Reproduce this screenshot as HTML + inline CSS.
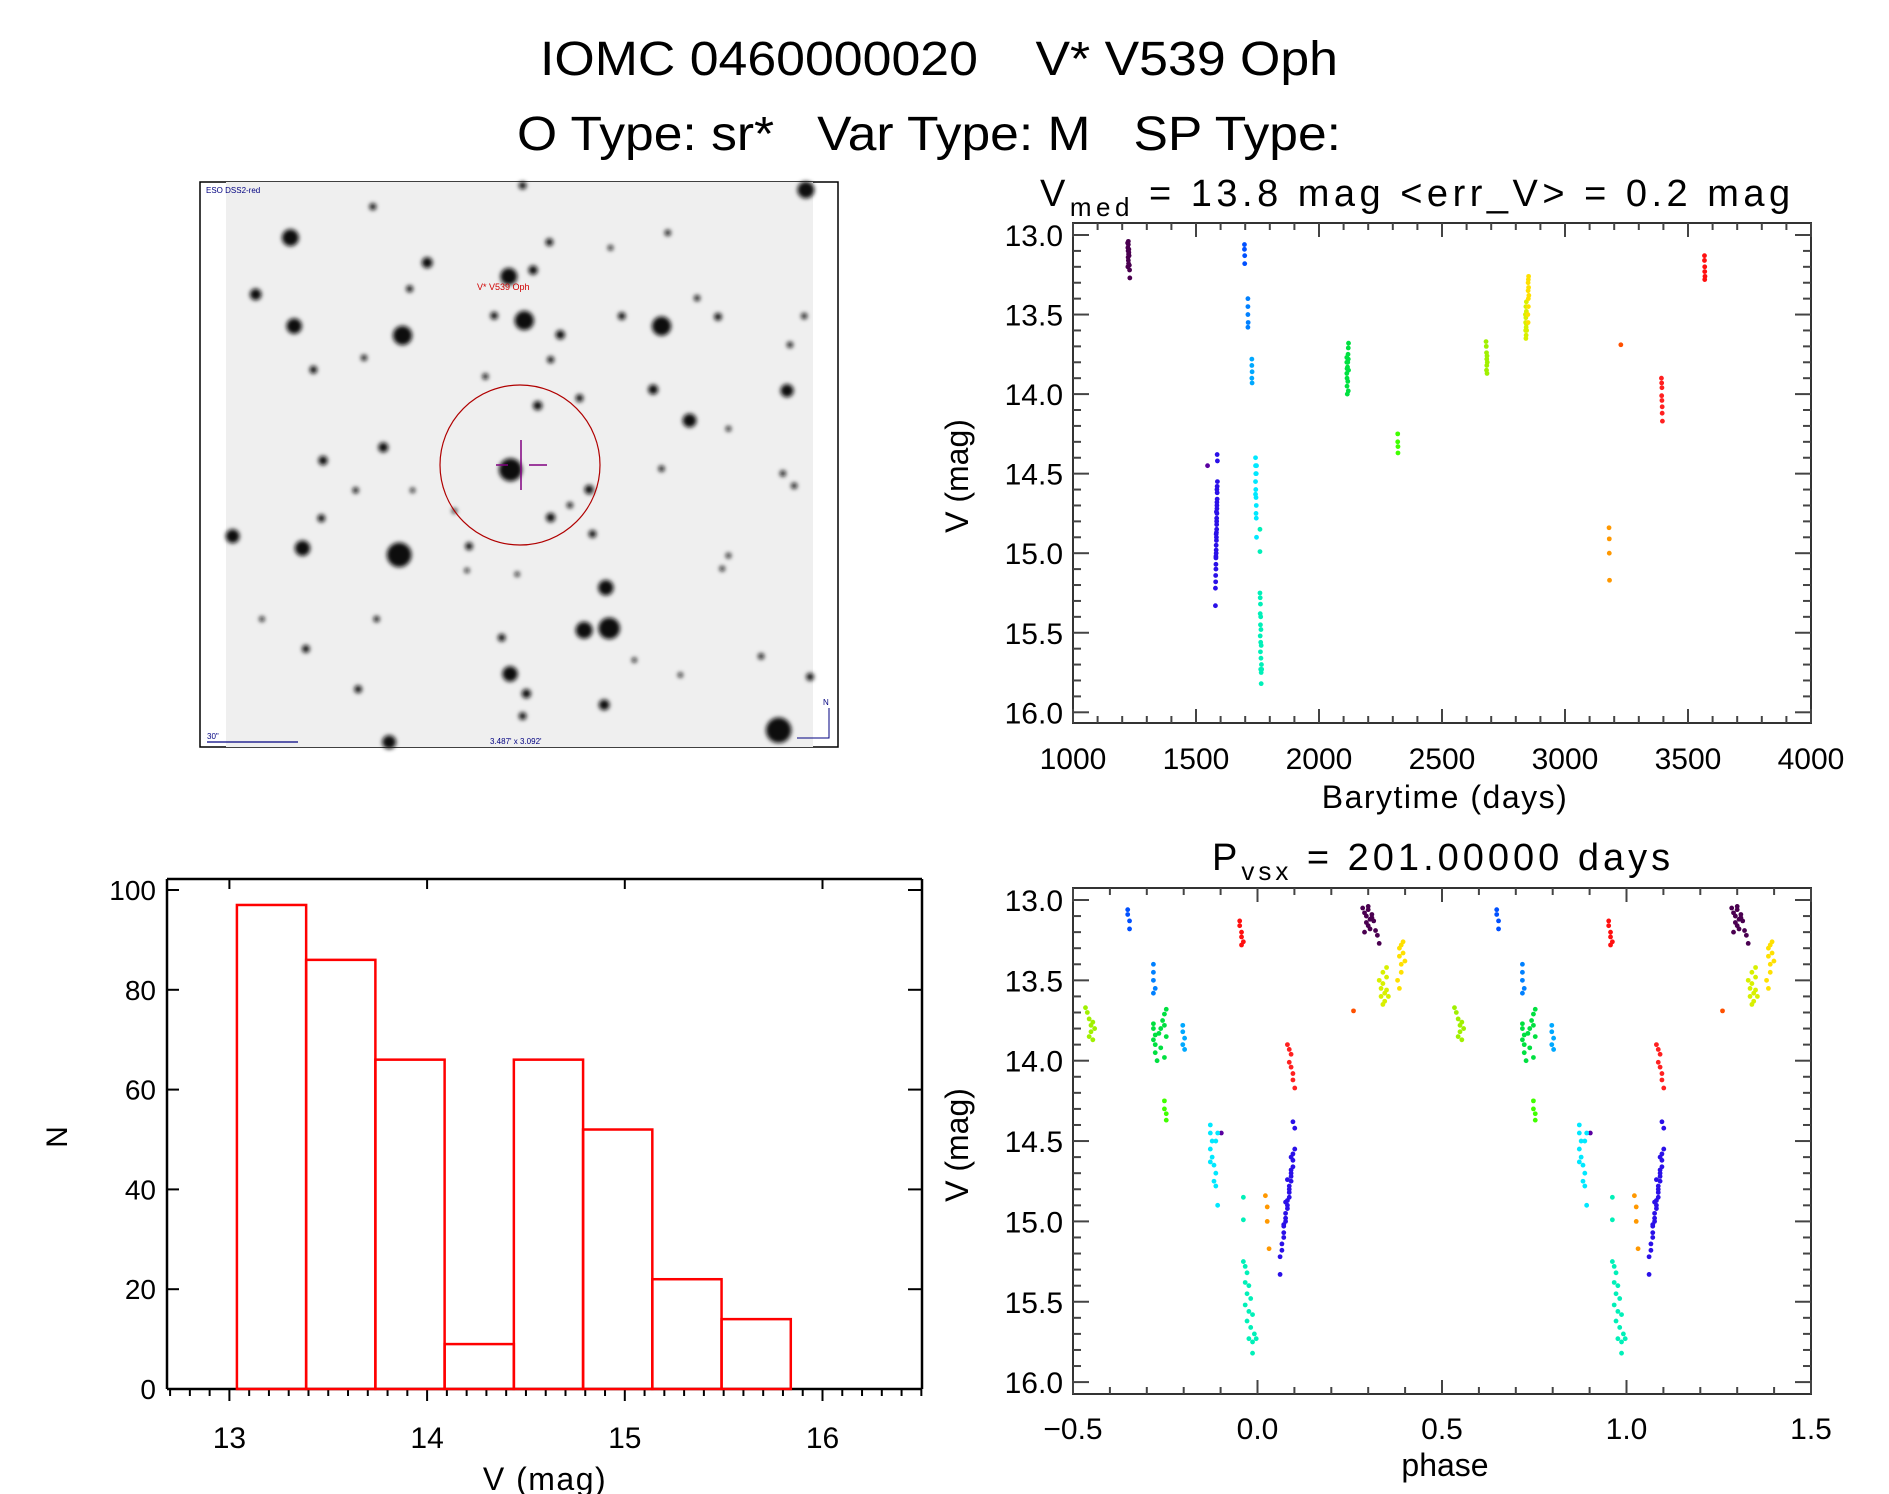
<!DOCTYPE html>
<html><head><meta charset="utf-8"><style>
html,body{margin:0;padding:0;background:#fff;}
svg{display:block;font-family:"Liberation Sans",sans-serif;}
</style></head><body>
<svg id="fig" width="1889" height="1494" viewBox="0 0 1889 1494" xmlns="http://www.w3.org/2000/svg">
<defs>
<filter id="blur1"><feGaussianBlur stdDeviation="2.2"/></filter>
</defs>
<text x="939" y="75" font-size="48" text-anchor="middle" textLength="798" lengthAdjust="spacingAndGlyphs" style="white-space:pre">IOMC 0460000020    V* V539 Oph</text>
<text x="929" y="150" font-size="48" text-anchor="middle" textLength="824" lengthAdjust="spacingAndGlyphs" style="white-space:pre">O Type: sr*   Var Type: M   SP Type:</text>

<g id="sky">
<rect x="200" y="182" width="638" height="565" fill="#fff" stroke="#000" stroke-width="1.5"/>
<rect x="226" y="182" width="587" height="565" fill="#efefef"/>
<g id="stars" filter="url(#blur1)"></g>
<circle cx="520" cy="465" r="80" fill="none" stroke="#b00000" stroke-width="1.2"/>
<line x1="521" y1="440" x2="521" y2="490" stroke="#800080" stroke-width="1.5"/>
<line x1="496" y1="465" x2="508" y2="465" stroke="#800080" stroke-width="1.5"/>
<line x1="529" y1="465" x2="547" y2="465" stroke="#800080" stroke-width="1.5"/>
<text x="477" y="290" font-size="9" fill="#d00000">V* V539 Oph</text>
<text x="206" y="193" font-size="8" fill="#000080">ESO DSS2-red</text>
<text x="207" y="739" font-size="8" fill="#000080">30"</text>
<line x1="207" y1="742" x2="298" y2="742" stroke="#000080" stroke-width="1.2"/>
<text x="490" y="744" font-size="8" fill="#000080">3.487' x 3.092'</text>
<text x="823" y="705" font-size="8" fill="#000080">N</text>
<path d="M829 708 L829 738 L797 738" fill="none" stroke="#000080" stroke-width="1"/>
</g>

<g id="lc"></g>
<g id="ph"></g>
<g id="hist"></g>
</svg>
<script>
// ---- light curve data ----
const groupColor = ["#4a0050","#5a00a0","#2a10e8","#0050ff","#0080ff","#00a8ff","#00e8ff","#00f0b8","#00e040","#40ff00","#a0f000","#d8f000","#ffe000","#ff9800","#ff5000","#ff2020","#ff1010"];
const obsTime = [
1222,1223,1224,1225,1226,1224,1225,1227,1226,1228,1223,1229,1230,1231,1227,1225,
1547,
1579,1579,1580,1580,1581,1581,1581,1582,1582,1582,1583,1583,1583,1584,1584,1584,1584,1585,1585,1585,1585,1586,1586,1586,1587,1587,1586,1585,1583,1582,1581,
1697,1697,1698,1698,
1711,1711,1711,1712,1711,
1727,1727,1728,1727,1728,
1742,1742,1743,1742,1743,1742,1744,1745,1745,1744,1746,1745,1746,
1760,1760,1760,1761,1762,1761,1763,1762,1764,1761,1763,1765,1762,1764,1766,1763,1765,1767,1765,
2113,2113,2114,2113,2114,2114,2115,2116,2117,2118,2119,2120,2119,2120,2119,2117,
2320,2320,2321,2321,
2679,2680,2681,2682,2682,2681,2683,2684,2683,
2839,2840,2840,2841,2841,2842,2842,2843,2843,2843,2844,2841,
2850,2850,2851,2851,2852,2851,2852,2849,2853,2850,
3179,3180,3180,3181,
3227,
3392,3393,3394,3393,3394,3395,3395,3396,
3567,3567,3568,3568,3569,3568];
const obsMag = [
13.05,13.08,13.10,13.06,13.12,13.14,13.16,13.11,13.18,13.13,13.20,13.19,13.22,13.27,13.09,13.04,
14.45,
15.33,15.22,15.18,15.14,15.10,15.07,15.03,15.00,14.98,14.95,14.92,14.90,14.87,14.85,14.82,14.80,14.78,14.75,14.72,14.70,14.68,14.66,14.62,14.58,14.55,14.42,14.38,14.60,14.74,14.88,15.02,
13.06,13.09,13.13,13.18,
13.40,13.45,13.50,13.55,13.58,
13.78,13.82,13.86,13.90,13.93,
14.40,14.45,14.50,14.55,14.60,14.63,14.65,14.50,14.70,14.75,14.45,14.78,14.90,
14.85,14.99,15.25,15.28,15.32,15.38,15.40,15.45,15.48,15.52,15.56,15.58,15.62,15.66,15.70,15.73,15.75,15.73,15.82,
13.77,13.80,13.84,13.87,13.90,13.95,14.00,13.83,13.80,13.75,13.71,13.68,13.78,13.85,13.98,13.92,
14.25,14.30,14.33,14.37,
13.67,13.70,13.74,13.78,13.82,13.85,13.76,13.80,13.87,
13.50,13.55,13.60,13.45,13.52,13.58,13.63,13.48,13.42,13.56,13.60,13.65,
13.30,13.35,13.28,13.40,13.26,13.45,13.33,13.50,13.38,13.55,
14.84,14.91,15.00,15.17,
13.69,
13.90,13.93,13.96,14.01,14.04,14.08,14.12,14.17,
13.13,13.16,13.20,13.23,13.26,13.28];
const obsGroup = [
0,0,0,0,0,0,0,0,0,0,0,0,0,0,0,0,
1,
2,2,2,2,2,2,2,2,2,2,2,2,2,2,2,2,2,2,2,2,2,2,2,2,2,2,2,2,2,2,2,
3,3,3,3,
4,4,4,4,4,
5,5,5,5,5,
6,6,6,6,6,6,6,6,6,6,6,6,6,
7,7,7,7,7,7,7,7,7,7,7,7,7,7,7,7,7,7,7,
8,8,8,8,8,8,8,8,8,8,8,8,8,8,8,8,
9,9,9,9,
10,10,10,10,10,10,10,10,10,
11,11,11,11,11,11,11,11,11,11,11,11,
12,12,12,12,12,12,12,12,12,12,
13,13,13,13,
14,
15,15,15,15,15,15,15,15,
16,16,16,16,16,16];
const period = 201.0;
const epoch0 = 1164.7;
const timeTicks = [1000,1500,2000,2500,3000,3500,4000];
const magTicks = [13.0,13.5,14.0,14.5,15.0,15.5,16.0];
const phaseTicks = [-0.5,0.0,0.5,1.0,1.5];
// ---- histogram data ----
const binStart = 13.038;
const binWidth = 0.3502;
const binCounts = [97,86,66,9,66,52,22,14];
const histXTicks = [13,14,15,16];
const histYTicks = [0,20,40,60,80,100];

const NS="http://www.w3.org/2000/svg";
function mk(parent,tag,attrs){const e=document.createElementNS(NS,tag);for(const k in attrs)e.setAttribute(k,attrs[k]);parent.appendChild(e);return e;}

// stars (image decoration)
const starSpec=[[228,168,22],[145,320,15],[237,405,20],[496,430,25],[555,235,14],[750,272,22],[808,255,12],[787,390,25],[847,180,10],[873,428,12],[1115,405,25],[1460,40,22],[1415,578,17],[1095,575,13],[1182,658,18],[919,598,10],[819,618,12],[754,790,30],[450,730,13],[306,765,12],[283,522,10],[513,305,9],[425,85,9],[942,843,12],[850,918,12],[896,885,8],[950,962,10],[655,995,10],[257,1000,20],[488,1018,32],[90,968,18],[982,1106,20],[990,1215,28],[930,1220,22],[753,1337,20],[792,1390,12],[978,1420,14],[783,1450,10],[733,1240,10],[464,1520,18],[1395,1488,33],[1470,1345,10],[1353,1290,8],[265,1270,10],[390,1378,10],[434,1190,8],[1422,455,8],[1456,378,8],[1250,380,10],[1020,378,10],[715,377,10],[850,495,9],[694,540,8],[404,490,8],[302,920,10],[384,845,8],[1115,787,8],[1432,833,8],[1405,800,8],[1275,680,7],[1200,330,8],[993,195,7],[1130,155,8],[783,28,10],[160,1190,7],[1275,1020,7],[1260,1055,7],[650,1060,6],[770,1070,6],[520,845,6],[1050,1300,6],[1160,1340,6],[620,900,5]];
const stars=document.getElementById('stars');
starSpec.forEach(s=>{const c=mk(stars,'circle',{cx:195+s[0]/2.39,cy:175+s[1]/2.68,r:Math.max(2.5,s[2]/2.6),fill:'#111'});

});

function drawFrame(g,L,R,T,B){
  mk(g,'rect',{x:L,y:T,width:R-L,height:B-T,fill:'none',stroke:'#333','stroke-width':2});
}
function lcAxes(g,L,R,T,B,xs,xmin,xmax,minorStep,majorStep,ym){
  drawFrame(g,L,R,T,B);
  const n=Math.round((xmax-xmin)/minorStep);
  for(let i=0;i<=n;i++){const v=xmin+i*minorStep;const x=xs(v);const maj=Math.abs(v/majorStep-Math.round(v/majorStep))<1e-6;const len=maj?14:7;
    mk(g,'line',{x1:x,y1:B,x2:x,y2:B-len,stroke:'#444','stroke-width':2});
    mk(g,'line',{x1:x,y1:T,x2:x,y2:T+len,stroke:'#444','stroke-width':2});}
  for(let i=0;i<=31;i++){const m=12.95+i*0.1;const mm=Math.round(m*10)/10;if(mm<12.93||mm>16.08)continue;const y=ym(mm);const maj=Math.abs(mm*2-Math.round(mm*2))<1e-6;const len=maj?16:8;
    mk(g,'line',{x1:L,y1:y,x2:L+len,y2:y,stroke:'#444','stroke-width':2});
    mk(g,'line',{x1:R,y1:y,x2:R-len,y2:y,stroke:'#444','stroke-width':2});}
  magTicks.forEach(m=>{const t=mk(g,'text',{x:L-10,y:ym(m)+11,'font-size':30,'text-anchor':'end'});t.textContent=m.toFixed(1);
    
    });
}

// ---- light curve ----
(function(){
  const g=document.getElementById('lc');
  const L=1073,R=1811,T=223,B=723;
  const xs=t=>L+(t-1000)/3000*(R-L);
  const ym=m=>235+(m-13)*159.1;
  lcAxes(g,L,R,T,B,xs,1000,4000,100,500,ym);
  timeTicks.forEach(t=>{const e=mk(g,'text',{x:xs(t),y:769,'font-size':30,'text-anchor':'middle'});e.textContent=t;
    
    });
  for(let i=0;i<obsTime.length;i++){const c=mk(g,'circle',{cx:xs(obsTime[i]),cy:ym(obsMag[i]),r:2.4,fill:groupColor[obsGroup[i]]});
    
    }
  const xl=mk(g,'text',{x:1445,y:808,'font-size':32,'text-anchor':'middle','letter-spacing':1.5});xl.textContent='Barytime (days)';
  
  
  const yl=mk(g,'text',{x:0,y:0,'font-size':32,'text-anchor':'middle',transform:'translate(968,476) rotate(-90)'});yl.textContent='V (mag)';
  
  
  const tt=mk(g,'text',{x:1040,y:206,'font-size':38,'letter-spacing':4.5,'xml:space':'preserve'});
  
  
  tt.innerHTML='V<tspan font-size="26" dy="10">med</tspan><tspan dy="-10"> = 13.8 mag &lt;err_V&gt; = 0.2 mag</tspan>';
})();

// ---- phased ----
(function(){
  const g=document.getElementById('ph');
  const L=1073,R=1811,T=888,B=1394;
  const xs=p=>L+(p+0.5)/2*(R-L);
  const ym=m=>900+(m-13)*160.7;
  lcAxes(g,L,R,T,B,xs,-0.5,1.5,0.1,0.5,ym);
  phaseTicks.forEach(p=>{const e=mk(g,'text',{x:xs(p),y:1439,'font-size':30,'text-anchor':'middle'});e.textContent=(p<0?'\u2212':'')+Math.abs(p).toFixed(1);
    
    });
  for(let i=0;i<obsTime.length;i++){let ph=((obsTime[i]-epoch0)/period)%1;if(ph>=0.5)ph-=1;
    [ph,ph+1].forEach(p=>{const c=mk(g,'circle',{cx:xs(p),cy:ym(obsMag[i]),r:2.4,fill:groupColor[obsGroup[i]]});
      
      });}
  const xl=mk(g,'text',{x:1445,y:1476,'font-size':32,'text-anchor':'middle'});xl.textContent='phase';
  
  
  const yl=mk(g,'text',{x:0,y:0,'font-size':32,'text-anchor':'middle',transform:'translate(968,1145) rotate(-90)'});yl.textContent='V (mag)';
  
  
  const tt=mk(g,'text',{x:1212,y:870,'font-size':38,'letter-spacing':4});
  
  
  tt.innerHTML='P<tspan font-size="26" dy="10">vsx</tspan><tspan dy="-10"> = 201.00000 days</tspan>';
})();

// ---- histogram ----
(function(){
  const g=document.getElementById('hist');
  const L=167,R=922,T=879,B=1389;
  const xs=v=>229.4+(v-13)*197.7;
  const ys=n=>1389-n*4.99;
  mk(g,'line',{x1:L,y1:T,x2:R,y2:T,stroke:'#000','stroke-width':2.5});
  mk(g,'line',{x1:L,y1:T,x2:L,y2:B,stroke:'#000','stroke-width':2.5});
  mk(g,'line',{x1:R,y1:T,x2:R,y2:B,stroke:'#000','stroke-width':2.5});
  mk(g,'line',{x1:L,y1:B,x2:R,y2:B,stroke:'#000','stroke-width':2.5});
  for(let i=0;i<=38;i++){const v=12.7+i*0.1;const x=xs(v);if(x<L-1||x>R+1)continue;const maj=Math.abs(v-Math.round(v))<1e-6;
    mk(g,'line',{x1:x,y1:B,x2:x,y2:B+(maj?12:7),stroke:'#000','stroke-width':2});
    if(maj)mk(g,'line',{x1:x,y1:T,x2:x,y2:T+10,stroke:'#000','stroke-width':2});}
  histYTicks.forEach(n=>{const y=ys(n);
    mk(g,'line',{x1:L,y1:y,x2:L+12,y2:y,stroke:'#000','stroke-width':2});
    mk(g,'line',{x1:R,y1:y,x2:R-14,y2:y,stroke:'#000','stroke-width':2});
    const e=mk(g,'text',{x:156,y:y+10,'font-size':28,'text-anchor':'end'});e.textContent=n;
    
    });
  histXTicks.forEach(v=>{const e=mk(g,'text',{x:xs(v),y:1448,'font-size':30,'text-anchor':'middle'});e.textContent=v;
    
    });
  binCounts.forEach((n,i)=>{const x0=xs(binStart+i*binWidth),x1=xs(binStart+(i+1)*binWidth);
    const r=mk(g,'rect',{x:x0,y:ys(n),width:x1-x0,height:ys(0)-ys(n),fill:'none',stroke:'#ff0000','stroke-width':2.5});
    
    });
  const xl=mk(g,'text',{x:545,y:1490,'font-size':32,'text-anchor':'middle','letter-spacing':1.5});xl.textContent='V (mag)';
  
  
  const yl=mk(g,'text',{x:0,y:0,'font-size':30,'text-anchor':'middle',transform:'translate(67,1137) rotate(-90)'});yl.textContent='N';
  
  
})();
</script>
</body></html>
